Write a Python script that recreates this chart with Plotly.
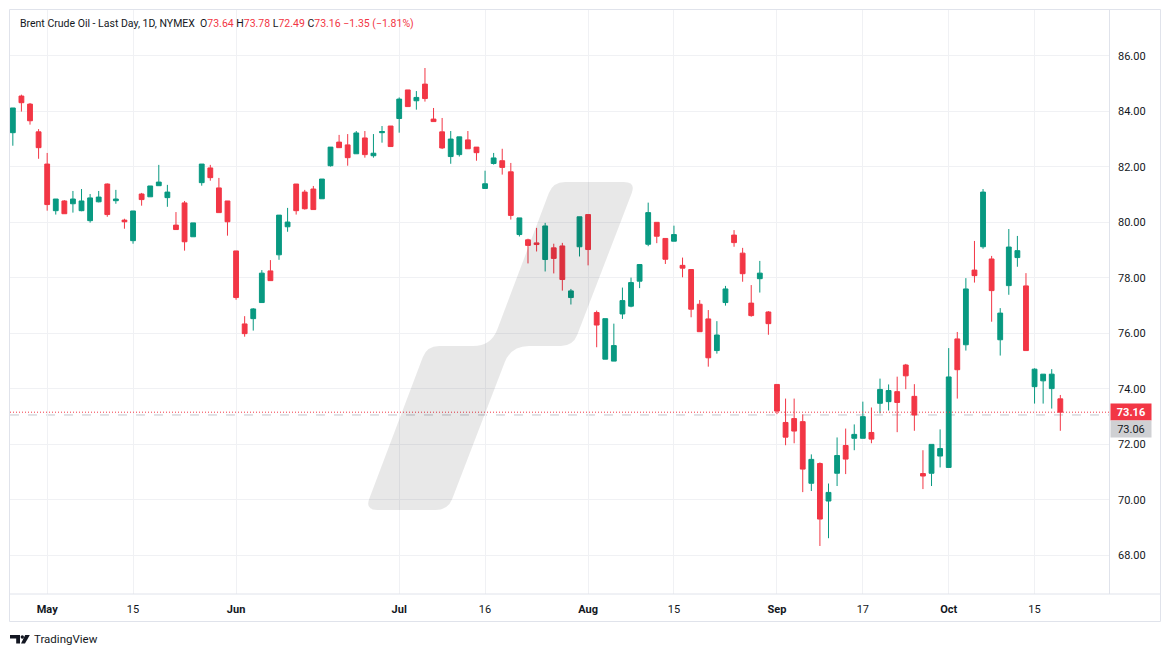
import plotly.graph_objects as go

# ---------------- data ----------------
dates = [
    "2024-04-25", "2024-04-26", "2024-04-29", "2024-04-30",
    "2024-05-01", "2024-05-02", "2024-05-03", "2024-05-06", "2024-05-07", "2024-05-08", "2024-05-09",
    "2024-05-10", "2024-05-13", "2024-05-14", "2024-05-15", "2024-05-16", "2024-05-17", "2024-05-20",
    "2024-05-21", "2024-05-22", "2024-05-23", "2024-05-24", "2024-05-28", "2024-05-29", "2024-05-30",
    "2024-05-31",
    "2024-06-03", "2024-06-04", "2024-06-05", "2024-06-06", "2024-06-07", "2024-06-10", "2024-06-11",
    "2024-06-12", "2024-06-13", "2024-06-14", "2024-06-17", "2024-06-18", "2024-06-20", "2024-06-21",
    "2024-06-24", "2024-06-25", "2024-06-26", "2024-06-27", "2024-06-28",
    "2024-07-01", "2024-07-02", "2024-07-03", "2024-07-05", "2024-07-08", "2024-07-09", "2024-07-10",
    "2024-07-11", "2024-07-12", "2024-07-15", "2024-07-16", "2024-07-17", "2024-07-18", "2024-07-19",
    "2024-07-22", "2024-07-23", "2024-07-24", "2024-07-25", "2024-07-26", "2024-07-29", "2024-07-30",
    "2024-07-31",
    "2024-08-01", "2024-08-02", "2024-08-05", "2024-08-06", "2024-08-07", "2024-08-08", "2024-08-09",
    "2024-08-12", "2024-08-13", "2024-08-14", "2024-08-15", "2024-08-16", "2024-08-19", "2024-08-20",
    "2024-08-21", "2024-08-22", "2024-08-23", "2024-08-26", "2024-08-27", "2024-08-28", "2024-08-29",
    "2024-08-30",
    "2024-09-03", "2024-09-04", "2024-09-05", "2024-09-06", "2024-09-09", "2024-09-10", "2024-09-11",
    "2024-09-12", "2024-09-13", "2024-09-16", "2024-09-17", "2024-09-18", "2024-09-19", "2024-09-20",
    "2024-09-23", "2024-09-24", "2024-09-25", "2024-09-26", "2024-09-27", "2024-09-30",
    "2024-10-01", "2024-10-02", "2024-10-03", "2024-10-04", "2024-10-07", "2024-10-08", "2024-10-09",
    "2024-10-10", "2024-10-11", "2024-10-14", "2024-10-15", "2024-10-16", "2024-10-17", "2024-10-18",
]

opens = [
    83.23, 84.55, 84.26, 83.26,
    82.10, 80.42, 80.77, 80.67, 80.42, 80.06, 80.74, 81.38, 80.78, 80.08, 79.34, 81.02, 80.92, 81.32,
    80.89, 79.90, 80.70, 79.48, 81.43, 81.96, 81.24, 80.77,
    78.97, 76.34, 76.53, 77.11, 78.25, 78.83, 79.84, 81.38, 81.09, 81.20, 80.85, 82.04, 82.89, 82.79,
    82.47, 83.04, 82.40, 83.23, 83.47,
    83.74, 84.77, 84.38, 84.98, 83.72, 83.26, 82.37, 82.44, 82.97, 82.71, 81.22, 82.12, 82.22, 81.82,
    79.56, 79.37, 79.26, 78.66, 79.08, 79.15, 77.29, 79.12,
    80.28, 76.75, 75.07, 75.00, 76.70, 76.98, 77.88, 79.21, 80.00, 79.42, 79.32, 78.45, 78.30, 77.05,
    76.52, 75.38, 77.11, 79.54, 78.89, 77.09, 77.97, 76.77,
    74.16, 72.79, 72.93, 72.82, 70.60, 71.31, 69.96, 70.96, 71.96, 72.22, 72.22, 72.43, 73.48, 73.54,
    73.90, 74.86, 73.73, 70.95, 70.96, 71.58,
    71.17, 75.80, 75.59, 78.28, 79.12, 78.68, 75.77, 77.72, 78.73, 77.71, 74.08, 74.29, 74.01, 73.64,
]

highs = [
    84.12, 84.60, 84.30, 83.36,
    82.50, 80.84, 80.80, 81.13, 81.20, 81.02, 81.13, 81.40, 81.17, 80.13, 80.41, 81.06, 81.31, 82.07,
    81.35, 80.37, 80.77, 79.98, 82.10, 82.07, 81.60, 80.77,
    78.97, 76.62, 76.91, 78.28, 78.64, 80.26, 80.52, 81.38, 81.17, 81.31, 81.56, 82.71, 83.15, 83.18,
    83.29, 83.29, 83.18, 83.47, 83.47,
    84.50, 84.77, 84.73, 85.56, 84.12, 83.76, 83.29, 83.08, 83.29, 82.71, 81.86, 82.50, 82.65, 82.14,
    80.16, 79.41, 79.80, 79.98, 79.23, 79.26, 77.60, 80.20,
    80.28, 76.82, 76.53, 76.35, 77.65, 78.01, 78.48, 80.71, 80.00, 79.42, 79.88, 78.73, 78.30, 77.20,
    76.84, 76.44, 77.71, 79.72, 79.08, 77.74, 78.61, 76.80,
    74.16, 73.65, 73.65, 73.08, 71.64, 71.35, 70.59, 72.25, 72.57, 72.72, 73.54, 73.33, 74.37, 74.16,
    74.44, 74.90, 74.17, 71.79, 72.00, 72.54,
    75.47, 76.05, 77.99, 79.33, 81.20, 78.79, 76.91, 79.76, 79.51, 78.17, 74.74, 74.53, 74.71, 73.78,
]

lows = [
    82.76, 83.99, 83.52, 82.29,
    80.42, 80.28, 80.31, 80.35, 80.40, 79.99, 80.72, 80.20, 80.67, 79.77, 79.23, 80.60, 80.92, 81.32,
    80.56, 79.74, 78.98, 79.48, 81.32, 81.50, 80.35, 79.52,
    77.21, 75.88, 76.10, 77.11, 77.90, 78.65, 79.66, 80.28, 80.46, 80.46, 80.85, 82.01, 82.69, 82.04,
    82.47, 82.33, 82.33, 82.87, 82.73,
    83.23, 84.17, 84.06, 84.35, 83.63, 82.64, 82.11, 82.37, 82.65, 82.22, 81.22, 82.08, 81.72, 80.10,
    79.49, 78.52, 78.95, 78.23, 78.16, 77.54, 77.04, 78.77,
    78.45, 75.50, 75.07, 75.00, 76.52, 76.94, 77.63, 79.14, 79.25, 78.50, 79.32, 78.02, 76.58, 76.06,
    74.80, 75.27, 77.00, 79.12, 77.86, 76.60, 77.47, 75.95,
    73.09, 71.97, 72.04, 70.28, 70.32, 68.34, 68.62, 70.50, 70.93, 71.79, 72.22, 72.04, 73.12, 73.22,
    72.44, 73.99, 72.49, 70.39, 70.50, 71.17,
    71.17, 73.65, 75.38, 77.83, 79.05, 76.42, 75.20, 77.39, 78.40, 75.38, 73.47, 73.47, 73.29, 72.49,
]

closes = [
    84.12, 84.31, 83.66, 82.69,
    80.64, 80.84, 80.31, 80.84, 80.77, 80.88, 80.91, 80.28, 80.84, 80.02, 80.41, 80.82, 81.31, 81.45,
    81.09, 79.74, 79.30, 79.98, 82.10, 81.61, 80.35, 80.02,
    77.29, 75.99, 76.88, 78.17, 77.90, 80.26, 80.01, 80.42, 80.49, 80.46, 81.56, 82.71, 82.69, 82.33,
    83.22, 82.44, 82.49, 83.27, 82.73,
    84.44, 84.17, 84.50, 84.46, 83.63, 82.68, 83.00, 83.08, 82.65, 82.51, 81.39, 82.32, 81.98, 80.25,
    80.16, 79.17, 79.20, 79.87, 78.70, 77.94, 77.53, 80.20,
    79.02, 76.30, 76.53, 75.56, 77.18, 77.83, 78.48, 80.35, 79.50, 78.67, 79.56, 78.35, 76.87, 76.06,
    75.12, 75.94, 77.60, 79.27, 78.15, 76.64, 78.17, 76.35,
    73.20, 72.26, 72.48, 71.11, 71.46, 69.31, 70.27, 71.60, 71.47, 72.36, 73.00, 72.19, 73.98, 73.94,
    73.51, 74.47, 73.06, 70.86, 72.00, 71.85,
    74.43, 74.69, 77.60, 78.08, 81.09, 77.54, 76.73, 79.11, 78.98, 75.38, 74.71, 74.53, 74.53, 73.16,
]

tick_dates = ["2024-05-01", "2024-05-15", "2024-06-03", "2024-07-01", "2024-07-16", "2024-08-01",
              "2024-08-15", "2024-09-03", "2024-09-17", "2024-10-01", "2024-10-15"]
tick_labels = ["May", "15", "Jun", "Jul", "16", "Aug", "15", "Sep", "17", "Oct", "15"]
month_labels = {"May", "Jun", "Jul", "Aug", "Sep", "Oct"}

last_price = 73.16
ref_price = 73.06
header_name = "Brent Crude Oil - Last Day, 1D, NYMEX"
ohlc_last = ("73.64", "73.78", "72.49", "73.16")
change_text = "\u22121.35 (\u22121.81%)"

# ---------------- styling ----------------
GREEN = "#089981"
RED = "#F23645"
TEXT = "#131722"
GRID = "#f0f1f4"
BORDER = "#e0e3eb"
FONT = "Roboto"

W, H = 1171, 657
PL, PR, PT, PB = 10, 1109, 10, 594  # plot area in pixels


def px(x):
    return (x - PL) / (PR - PL)


def py(y):
    return (PB - y) / (PB - PT)


fig = go.Figure()
fig.add_trace(go.Candlestick(
    x=dates, open=opens, high=highs, low=lows, close=closes,
    increasing=dict(line=dict(color=GREEN, width=1), fillcolor=GREEN),
    decreasing=dict(line=dict(color=RED, width=1), fillcolor=RED),
    whiskerwidth=0, hoverinfo="skip", showlegend=False,
))

# last price / reference lines
fig.add_hline(y=ref_price, line=dict(color="#c3c5cc", width=1, dash="dash"), layer="below")
fig.add_hline(y=last_price, line=dict(color=RED, width=1, dash="1px,2px"), layer="above")


# watermark (rounded polygon, semi transparent, drawn above the candles)
def rounded_path(pts, radii):
    n = len(pts)
    segs = []
    for i in range(n):
        p0 = pts[i - 1]
        p1 = pts[i]
        p2 = pts[(i + 1) % n]
        r = radii[i]
        d1 = ((p1[0] - p0[0]) ** 2 + (p1[1] - p0[1]) ** 2) ** 0.5
        d2 = ((p2[0] - p1[0]) ** 2 + (p2[1] - p1[1]) ** 2) ** 0.5
        a = (p1[0] + (p0[0] - p1[0]) * r / d1, p1[1] + (p0[1] - p1[1]) * r / d1)
        b = (p1[0] + (p2[0] - p1[0]) * r / d2, p1[1] + (p2[1] - p1[1]) * r / d2)
        segs.append((a, p1, b))
    path = "M %.5f,%.5f " % (px(segs[0][0][0]), py(segs[0][0][1]))
    for i, (a, c, b) in enumerate(segs):
        if i > 0:
            path += "L %.5f,%.5f " % (px(a[0]), py(a[1]))
        path += "Q %.5f,%.5f %.5f,%.5f " % (px(c[0]), py(c[1]), px(b[0]), py(b[1]))
    return path + "Z"


wm_pts = [(553, 182), (636, 182), (573, 346), (511, 346), (448, 510), (365, 510), (427, 346), (491, 346)]
wm_r = [12, 12, 12, 18, 12, 12, 12, 18]
fig.add_shape(type="path", path=rounded_path(wm_pts, wm_r), xref="paper", yref="paper",
              fillcolor="rgba(0,0,0,0.09)", line=dict(width=0), layer="above")

# frame
fig.add_shape(type="rect", xref="paper", yref="paper", x0=px(9.5), x1=px(1160.5), y0=py(621.5), y1=py(9.5),
              line=dict(color=BORDER, width=1), layer="above")
fig.add_shape(type="line", xref="paper", yref="paper", x0=px(9.5), x1=px(1160.5), y0=py(594), y1=py(594),
              line=dict(color=BORDER, width=1), layer="above")
fig.add_shape(type="line", xref="paper", yref="paper", x0=px(1109.5), x1=px(1109.5), y0=py(594), y1=py(9.5),
              line=dict(color=BORDER, width=1), layer="above")

# header
o, h, l, c = ohlc_last
sp = "&nbsp;"
header = (f"{header_name}{sp}{sp}O<span style='color:{RED}'>{o}</span>{sp}"
          f"H<span style='color:{RED}'>{h}</span>{sp}L<span style='color:{RED}'>{l}</span>{sp}"
          f"C<span style='color:{RED}'>{c}</span>{sp}<span style='color:{RED}'>{change_text}</span>")
fig.add_annotation(text=header, xref="paper", yref="paper", x=px(18), y=py(24), xanchor="left",
                   yanchor="middle", showarrow=False, font=dict(family=FONT, size=10.5, color=TEXT))

# price labels on the axis
fig.add_annotation(text=f"<b>{last_price:.2f}</b>", xref="paper", yref="y", x=px(1110), y=last_price,
                   xanchor="left", yanchor="middle", showarrow=False, bgcolor=RED, width=36, height=12,
                   borderpad=2, font=dict(family=FONT, size=11, color="white"))
fig.add_annotation(text=f"{ref_price:.2f}", xref="paper", yref="y", x=px(1110), y=ref_price, yshift=-14,
                   xanchor="left", yanchor="middle", showarrow=False, bgcolor="#cfd0d3", width=36, height=12,
                   borderpad=2, font=dict(family=FONT, size=11, color=TEXT))

# TradingView logo + text
fig.add_shape(type="path", xref="paper", yref="paper",
              path="M %.5f,%.5f L %.5f,%.5f L %.5f,%.5f L %.5f,%.5f L %.5f,%.5f L %.5f,%.5f Z" % (
                  px(10), py(635), px(20), py(635), px(20), py(643.5), px(16.2), py(643.5), px(16.2), py(638.6),
                  px(10), py(638.6)),
              fillcolor=TEXT, line=dict(width=0))
fig.add_shape(type="circle", xref="paper", yref="paper", x0=px(20.6), x1=px(24.0), y0=py(638.7), y1=py(635.3),
              fillcolor=TEXT, line=dict(width=0))
fig.add_shape(type="path", xref="paper", yref="paper",
              path="M %.5f,%.5f L %.5f,%.5f L %.5f,%.5f L %.5f,%.5f Z" % (
                  px(25.2), py(635), px(29.8), py(635), px(25.0), py(643.5), px(21.0), py(643.5)),
              fillcolor=TEXT, line=dict(width=0))
fig.add_annotation(text="TradingView", xref="paper", yref="paper", x=px(31.5), y=py(638.5), xanchor="left",
                   yanchor="middle", showarrow=False, font=dict(family=FONT, size=11.5, color=TEXT))

ticktext = [f"<b>{t}</b>" if t in month_labels else t for t in tick_labels]

fig.update_layout(
    width=W, height=H,
    margin=dict(l=PL, r=W - PR, t=PT, b=H - PB),
    paper_bgcolor="white", plot_bgcolor="white",
    boxgap=0.2,
    font=dict(family=FONT, color=TEXT),
    showlegend=False,
    xaxis=dict(
        type="category", range=[-0.33, 127.67], rangeslider=dict(visible=False),
        tickmode="array", tickvals=tick_dates, ticktext=ticktext,
        showgrid=True, gridcolor=GRID, gridwidth=1, zeroline=False, showline=False,
        ticks="", ticklabelstandoff=7, tickfont=dict(family=FONT, size=11, color=TEXT),
        fixedrange=True,
    ),
    yaxis=dict(
        side="right", range=[66.61, 87.65], dtick=2, tick0=68, tickformat=".2f",
        showgrid=True, gridcolor=GRID, gridwidth=1, zeroline=False, showline=False,
        ticks="", ticklabelstandoff=8, tickfont=dict(family=FONT, size=11, color=TEXT),
        fixedrange=True,
    ),
)

fig.write_html("out.html")
